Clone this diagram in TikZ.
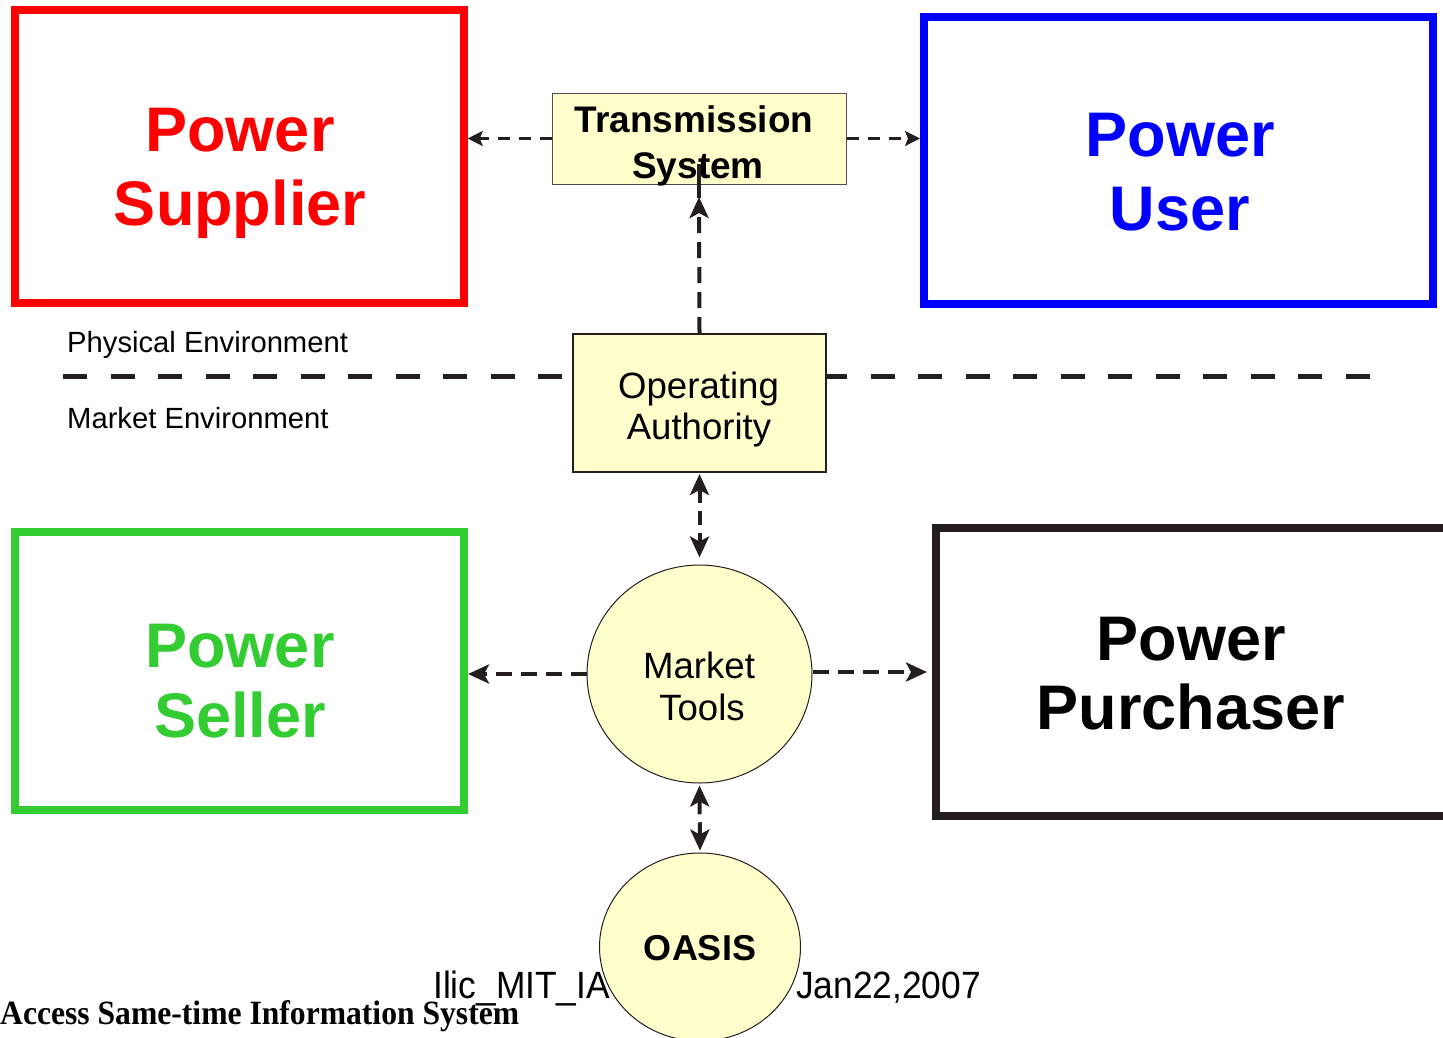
\documentclass[tikz,border=0pt]{standalone}
\usepackage{fontspec}
\setmainfont{Liberation Sans}
\newfontfamily\footserif{Liberation Serif}
\usetikzlibrary{arrows.meta,shapes.geometric}
\definecolor{psred}{HTML}{FF0000}
\definecolor{psblue}{HTML}{0000FF}
\definecolor{psgreen}{HTML}{33CC33}
\definecolor{psblack}{HTML}{231F20}
\definecolor{pale}{HTML}{FFFFCC}
\begin{document}
\begin{tikzpicture}[x=1bp,y=-1bp,
  bigbox/.style={draw=#1,line width=7.5bp,inner sep=0pt,rectangle},
  bigtxt/.style={anchor=base,inner sep=0pt,text=#1,font=\fontsize{63bp}{63bp}\selectfont\bfseries},
  midtxt/.style={anchor=base,inner sep=0pt,font=\fontsize{36.6bp}{36.6bp}\selectfont},
  midbold/.style={anchor=base,inner sep=0pt,font=\fontsize{37bp}{37bp}\selectfont\bfseries},
  envtxt/.style={anchor=base west,inner sep=0pt,font=\fontsize{29.2bp}{29.2bp}\selectfont},
  footsans/.style={anchor=base west,inner sep=0pt,font=\fontsize{38bp}{38bp}\selectfont},
  thinarrow/.style={draw=psblack,line width=2.5bp,dash pattern=on 12bp off 9bp,
     -{Stealth[length=15bp,width=15bp,inset=3bp]}},
  medarrow/.style={draw=psblack,line width=4bp,dash pattern=on 16bp off 9bp,
     -{Stealth[length=21bp,width=19bp,inset=5bp]}},
  dblarrow/.style={draw=psblack,line width=4bp,dash pattern=on 14bp off 8bp,
     {Stealth[length=21bp,width=19bp,inset=5bp]}-{Stealth[length=21bp,width=19bp,inset=5bp]}},
  stubline/.style={draw=psblack,line width=4bp},
  divider/.style={draw=psblack,line width=5bp,dash pattern=on 24bp off 23.5bp},
  palebox/.style={fill=pale,inner sep=0pt,rectangle}
]
\useasboundingbox (0,0) rectangle (1443,1037);
\clip (0,0) rectangle (1443,1037);

% divider between physical and market environment
\coordinate (divL) at (63,376);
\coordinate (divR) at (1372,376);
\draw[divider] (divL) -- (divR);

% big boxes
\node[bigbox=psred,minimum width=449bp,minimum height=293bp] (sup) at (239.5,156.5) {};
\node[bigbox=psblue,line width=8bp,minimum width=509bp,minimum height=287bp] (usr) at (1178.5,160.5) {};
\node[bigbox=psgreen,line width=8bp,minimum width=449bp,minimum height=278bp] (sel) at (239.5,671) {};
\node[bigbox=psblack,line width=8bp,minimum width=514bp,minimum height=288bp] (pur) at (1193,672) {};

\node[bigtxt=psred] (supA) at (240,151) {Power};
\node[bigtxt=psred] (supB) at (240,225) {Supplier};
\node[bigtxt=psblue] (usrA) at (1180,156) {Power};
\node[bigtxt=psblue] (usrB) at (1180,230) {User};
\node[bigtxt=psgreen] (selA) at (240,667) {Power};
\node[bigtxt=psgreen] (selB) at (240,737) {Seller};
\node[bigtxt=black] (purA) at (1191,660) {Power};
\node[bigtxt=black] (purB) at (1191,729) {Purchaser};

% environment labels
\node[envtxt] (phys) at (67,352) {Physical Environment};
\node[envtxt] (mkt) at (67,428) {Market Environment};

% transmission system
\node[palebox,draw=black!70,line width=1bp,minimum width=294bp,minimum height=91bp] (ts) at (699,138.5) {};
\node[midbold] (tsA) at (694,132) {Transmission};
\node[midbold] (tsB) at (698,178) {System};

% operating authority
\node[palebox,draw=psblack,line width=2bp,minimum width=253bp,minimum height=138bp] (oa) at (699.5,403) {};
\node[midtxt] (oaA) at (698.5,398) {Operating};
\node[midtxt] (oaB) at (699,439) {Authority};

% market tools
\node[ellipse,fill=pale,draw=psblack,line width=1bp,inner sep=0pt,minimum width=225bp,minimum height=218bp] (mt) at (699.5,674) {};
\node[midtxt] (mtA) at (699,678) {Market};
\node[midtxt] (mtB) at (702,720) {Tools};

% footer texts (partly hidden by OASIS)
\node[footsans] (ilic) at (433,998) {\scalebox{0.93}[1]{Ilic\_MIT\_IA}};
\node[footsans] (jan) at (796,998) {\scalebox{0.93}[1]{Jan22,2007}};
\node[anchor=base west,inner sep=0pt,font=\footserif\fontsize{34bp}{34bp}\selectfont\bfseries] (oasisdef) at (0,1024) {\scalebox{0.93}[1]{Access Same-time Information System}};

% OASIS
\node[ellipse,fill=pale,draw=psblack,line width=1bp,inner sep=0pt,minimum width=201bp,minimum height=188bp] (oasis) at (700,947) {};
\node[midbold,font=\fontsize{36bp}{36bp}\selectfont\bfseries] (oasisT) at (700,960) {OASIS};

% connectors
\draw[thinarrow] (ts.west) -- (ts.west -| sup.east);
\draw[thinarrow] (ts.east) -- (ts.east -| usr.west);

\coordinate (tstip) at (699,197);
\coordinate (stubtop) at (699,164);
\draw[medarrow] (oa.north) -- (tstip);
\draw[stubline] ([yshift=-1bp]tstip) -- (stubtop);

\draw[dblarrow,shorten <=1bp,shorten >=7bp] (oa.south) -- (mt.north);
\draw[medarrow] (mt.west) -- (mt.west -| sel.east);
\draw[medarrow,shorten >=5bp] ([yshift=2bp]mt.east) -- ([yshift=2bp]mt.east -| pur.west);
\draw[dblarrow,shorten <=2bp,shorten >=2bp] (mt.south) -- (oasis.north);
\end{tikzpicture}
\end{document}
